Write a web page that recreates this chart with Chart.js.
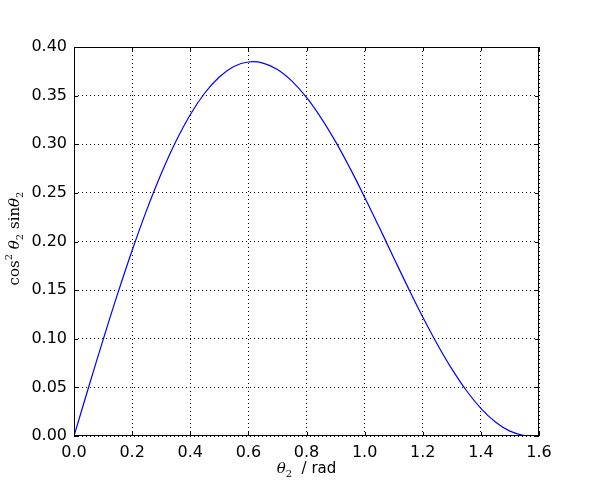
<!DOCTYPE html>
<html>
<head>
<meta charset="utf-8">
<script src="https://cdn.jsdelivr.net/npm/chart.js@4/dist/chart.umd.min.js"></script>
<style>
  html, body { margin: 0; padding: 0; background: #fff; }
  #wrap { width: 600px; height: 484px; }
</style>
</head>
<body>
<div id="wrap"><canvas id="chart"></canvas></div>
<script>
// theta_2 (rad) and cos^2 sin values
const thetaValues = [0, 0.05, 0.1, 0.15, 0.2, 0.25, 0.3, 0.35, 0.4, 0.45, 0.5, 0.55,
  0.6, 0.65, 0.7, 0.75, 0.8, 0.85, 0.9, 0.95, 1.0, 1.05, 1.1, 1.15, 1.2, 1.25,
  1.3, 1.35, 1.4, 1.45, 1.5, 1.55, 1.5708];
const curveValues = [0, 0.0499, 0.0988, 0.1461, 0.1908, 0.2323, 0.2697, 0.3026,
  0.3304, 0.3527, 0.3692, 0.3799, 0.3846, 0.3835, 0.3769, 0.3649, 0.3482, 0.3272,
  0.3027, 0.2752, 0.2456, 0.2148, 0.1834, 0.1523, 0.1224, 0.0944, 0.0690, 0.0468,
  0.0285, 0.0144, 0.0050, 0.0004, 0];

const xTicks = [0, 0.2, 0.4, 0.6, 0.8, 1.0, 1.2, 1.4, 1.6];
const yTicks = [0, 0.05, 0.1, 0.15, 0.2, 0.25, 0.3, 0.35, 0.4];

const points = thetaValues.map((t, i) => ({ x: t, y: curveValues[i] }));

// draw a row of text pieces, each with its own font and vertical shift
function drawPieces(ctx, pieces, cx, cy) {
  let total = 0;
  pieces.forEach(p => { ctx.font = p.font; p.w = ctx.measureText(p.text).width; total += p.w; });
  let x = cx - total / 2;
  ctx.textBaseline = 'alphabetic';
  ctx.textAlign = 'left';
  pieces.forEach(p => {
    ctx.font = p.font;
    ctx.fillText(p.text, x, cy + (p.dy || 0));
    x += p.w;
  });
}

const framePlugin = {
  id: 'frame',
  afterDraw(chart) {
    const { ctx, chartArea: a, scales } = chart;
    ctx.save();
    ctx.strokeStyle = '#000';
    ctx.lineWidth = 1;
    ctx.strokeRect(a.left + 0.5, a.top + 0.5, a.right - a.left - 1, a.bottom - a.top - 1);
    // inward ticks on all four sides
    ctx.beginPath();
    xTicks.forEach(v => {
      const px = Math.round(scales.x.getPixelForValue(v)) + 0.5;
      ctx.moveTo(px, a.bottom); ctx.lineTo(px, a.bottom - 4);
      ctx.moveTo(px, a.top); ctx.lineTo(px, a.top + 4);
    });
    yTicks.forEach(v => {
      const py = Math.round(scales.y.getPixelForValue(v)) + 0.5;
      ctx.moveTo(a.left, py); ctx.lineTo(a.left + 4, py);
      ctx.moveTo(a.right, py); ctx.lineTo(a.right - 4, py);
    });
    ctx.stroke();

    // axis labels
    ctx.fillStyle = '#000';
    const serif = '15px "DejaVu Serif"';
    const serifIt = 'italic 15px "DejaVu Serif"';
    const small = '10px "DejaVu Serif"';
    drawPieces(ctx, [
      { text: 'θ', font: serifIt },
      { text: '2', font: small, dy: 4 },
      { text: '  / rad', font: '15px "DejaVu Sans"' }
    ], (a.left + a.right) / 2, 473);

    ctx.translate(19, (a.top + a.bottom) / 2 - 3);
    ctx.rotate(-Math.PI / 2);
    drawPieces(ctx, [
      { text: 'cos', font: serif },
      { text: '2', font: small, dy: -7 },
      { text: ' θ', font: serifIt },
      { text: '2', font: small, dy: 4 },
      { text: ' sin', font: serif },
      { text: 'θ', font: serifIt },
      { text: '2', font: small, dy: 4 }
    ], 0, 0);
    ctx.restore();
  }
};

new Chart(document.getElementById('chart'), {
  type: 'line',
  data: {
    datasets: [{
      data: points,
      borderColor: '#0000ff',
      borderWidth: 1.2,
      pointRadius: 0,
      tension: 0.4,
      fill: false
    }]
  },
  plugins: [framePlugin],
  options: {
    responsive: true,
    maintainAspectRatio: false,
    animation: false,
    layout: { padding: { top: 47, right: 61, left: 0, bottom: 0 } },
    plugins: { legend: { display: false }, tooltip: { enabled: false } },
    scales: {
      x: {
        type: 'linear',
        min: 0, max: 1.6,
        afterBuildTicks: s => { s.ticks = xTicks.map(v => ({ value: v })); },
        afterFit: s => { s.height = 48; },
        border: { display: false, dash: [1, 3] },
        grid: { color: '#000', lineWidth: 1, drawTicks: false },
        ticks: {
          padding: 7,
          color: '#000',
          font: { family: 'DejaVu Sans', size: 16 },
          maxRotation: 0,
          callback: v => v.toFixed(1)
        }
      },
      y: {
        min: 0, max: 0.4,
        afterBuildTicks: s => { s.ticks = yTicks.map(v => ({ value: v })); },
        afterFit: s => { s.width = 74; },
        border: { display: false, dash: [1, 3] },
        grid: { color: '#000', lineWidth: 1, drawTicks: false },
        ticks: {
          padding: 7,
          color: '#000',
          font: { family: 'DejaVu Sans', size: 16 },
          callback: v => v.toFixed(2)
        }
      }
    }
  }
});
</script>
</body>
</html>
